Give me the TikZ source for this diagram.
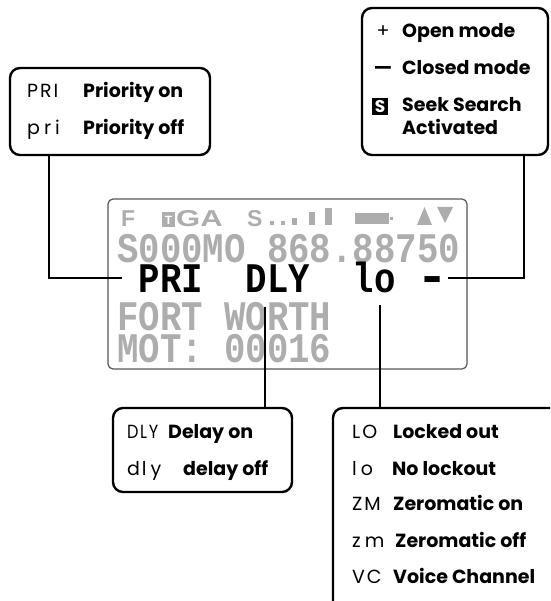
\documentclass[tikz,border=0pt]{standalone}
\usepackage{fontspec}
\setmainfont{Poppins}
\newfontfamily\wordfont{Poppins}
\newfontfamily\codefont{Poppins}[LetterSpace=10]
\newfontfamily\lcdfont{Liberation Mono}
\newfontfamily\statfont{Liberation Sans}
\definecolor{lcdgray}{HTML}{ADADAD}
\definecolor{lcdedge}{HTML}{555555}
\tikzset{
  callout/.style={draw, line width=2.4pt, rounded corners=10pt, inner sep=0pt},
  link/.style={line width=1.5pt},
  word/.style={anchor=base west, inner sep=0pt, font=\wordfont\bfseries\fontsize{19}{19}\selectfont},
  code/.style={anchor=base west, inner sep=0pt, font=\codefont\fontsize{19}{19}\selectfont},
  lcdrow/.style={anchor=base west, inner sep=0pt, text height=24pt, text depth=0pt, text=lcdgray, font=\lcdfont\bfseries\fontsize{35.7}{36}\selectfont},
  lcdkey/.style={lcdrow, text=black},
  stat/.style={anchor=base west, inner sep=0pt, text=lcdgray, font=\statfont\bfseries\fontsize{23}{23}\selectfont},
}
\newcommand{\tallrow}[1]{\scalebox{1}[1.18]{#1}}
\begin{document}
\begin{tikzpicture}[x=1pt,y=-1pt]
\useasboundingbox (0,0) rectangle (550,601);
\clip (0,0) rectangle (550,601);

% callout boxes
\node[callout, minimum width=200pt, minimum height=87pt] (pribox) at (110,111.5) {};
\node[callout, minimum width=186pt, minimum height=147pt] (seekbox) at (455,81.5) {};
\node[callout, minimum width=179pt, minimum height=84pt] (dlybox) at (202.5,450) {};
\node[callout, minimum width=237pt, minimum height=204pt] (lobox) at (451.5,510) {};

% LCD
\node[draw=lcdedge, line width=1.2pt, rounded corners=5pt, minimum width=359pt, minimum height=170pt] (lcd) at (287.5,284) {};

% status row
\node[stat] (f) at (121,227) {F};
\fill[lcdgray] (162,212) rectangle (175,227);
\node[anchor=base, inner sep=0pt, text=white, font=\statfont\bfseries\fontsize{12}{12}\selectfont] (ticon) at (168.5,225) {T};
\node[stat] (ga) at (176,227) {\scalebox{1.35}[1]{GA}};
\node[stat] (s) at (247,227) {S};
\fill[lcdgray] (270,221) rectangle (274,225);
\fill[lcdgray] (281,221) rectangle (285,225);
\fill[lcdgray] (292,218) rectangle (297,225);
\fill[lcdgray] (309,212) rectangle (315,225);
\fill[lcdgray] (325,208) rectangle (332,225);
\fill[lcdgray] (355,213) rectangle (389,224);
\fill[lcdgray] (390,217) rectangle (393,220);
\fill[lcdgray] (417,225) -- (424.5,207) -- (432,225) -- cycle;
\fill[lcdgray] (437,207) -- (453,207) -- (445,223) -- cycle;

% dot-matrix rows
\node[lcdrow] (row2) at (117,262) {\tallrow{S000MO 868.88750}};
\node[lcdkey] (pri) at (138.4,292) {\tallrow{PRI}};
\node[lcdkey] (dly) at (245.4,292) {\tallrow{DLY}};
\node[lcdkey] (lo) at (352.4,292) {\tallrow{lo}};
\node[lcdkey] (dash) at (416.6,292) {\scalebox{1.5}[1.4]{-}};
\node[lcdrow] (row4) at (117,330) {\tallrow{FORT WORTH}};
\node[lcdrow] (row5) at (117,362) {\tallrow{MOT: 00016}};

% connector ends
\coordinate (priend) at (122,278);
\coordinate (dashend) at (448,278);
\coordinate (dlyend) at (265,307);
\coordinate (loend) at (380,305);

\draw[link] (priend) -| ([xshift=40pt]pribox.south west);
\draw[link] (dashend) -| ([xshift=-25pt]seekbox.south east);
\draw[link] (dlyend) -- (dlyend |- dlybox.north);
\draw[link] (loend) -- (loend |- lobox.north);

% PRI box text
\node[code] (c1) at (27,98) {PRI};
\node[word] (w1) at (83,98) {Priority on};
\node[code] (c2) at (27,135) {p\hspace{4pt}r\hspace{4pt}i};
\node[word] (w2) at (83,135) {Priority off};

% Seek box text
\node[code, anchor=base] (plus) at (383,38) {+};
\node[word] (w3) at (402,38) {Open mode};
\node[word, anchor=base] (minus) at (383,75) {\scalebox{1.5}[1]{–}};
\node[word] (w4) at (402,75) {Closed mode};
\node[fill=black, text=white, inner sep=0pt, minimum width=16pt, minimum height=17pt, font=\codefont\bfseries\fontsize{17}{17}\selectfont] (sbox) at (380,106.5) {S};
\node[word] (w5) at (402,112) {Seek Search};
\node[word] (w6) at (402,135) {Activated};

% DLY box text
\node[code] (c3) at (127,438) {\scalebox{0.85}[1]{DLY}};
\node[word] (w7) at (168,438) {Delay on};
\node[code] (c4) at (127,475) {dl\hspace{4pt}y};
\node[word] (w8) at (183,475) {delay off};

% LO box text
\node[code] (c5) at (352,438) {LO};
\node[word] (w9) at (393,438) {Locked out};
\node[code] (c6) at (352,475) {l\hspace{4pt}o};
\node[word] (w10) at (392,475) {No lockout};
\node[code] (c7) at (352,510) {ZM};
\node[word] (w11) at (393,510) {Zeromatic on};
\node[code] (c8) at (352,547) {z\hspace{4pt}m};
\node[word] (w12) at (395,547) {Zeromatic off};
\node[code] (c9) at (352,583) {VC};
\node[word] (w13) at (393,583) {Voice Channel};
\end{tikzpicture}
\end{document}
